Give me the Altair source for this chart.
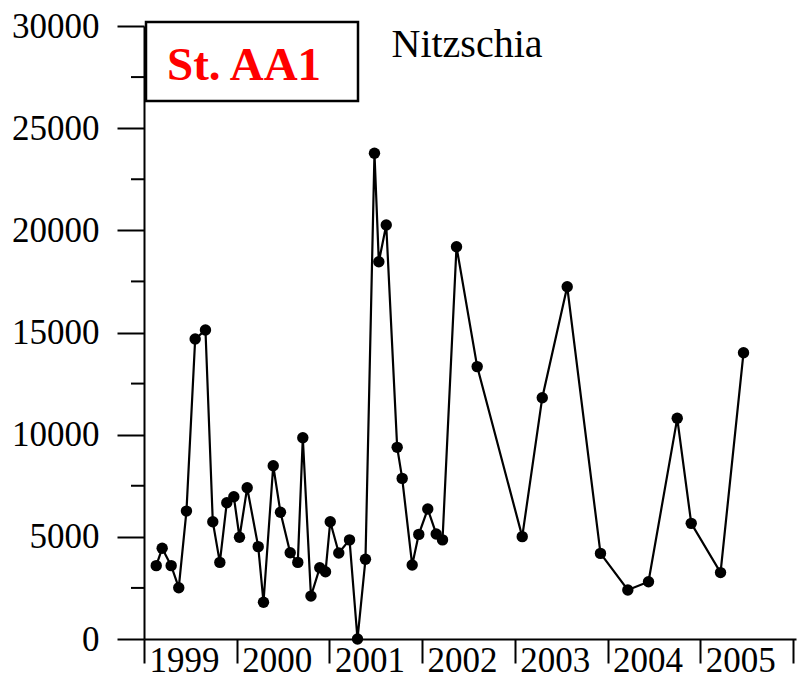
import altair as alt
import pandas as pd

# Sampling dates (decimal years) and Nitzschia abundance at station AA1
sample_time = [
    1999.132, 1999.196, 1999.293, 1999.375, 1999.458, 1999.552, 1999.663, 1999.742,
    1999.818, 1999.893, 1999.969, 2000.030, 2000.113, 2000.232, 2000.289, 2000.394,
    2000.472, 2000.577, 2000.659, 2000.713, 2000.801, 2000.896, 2000.958, 2001.009,
    2001.101, 2001.217, 2001.303, 2001.389, 2001.486, 2001.533, 2001.613, 2001.731,
    2001.785, 2001.893, 2001.964, 2002.061, 2002.152, 2002.220, 2002.371, 2002.594,
    2003.080, 2003.296, 2003.565, 2003.924, 2004.219, 2004.442, 2004.752, 2004.903,
    2005.219, 2005.467,
]
abundance = [
    3590, 4440, 3590, 2510, 6260, 14680, 15120, 5740,
    3750, 6670, 6960, 4980, 7400, 4520, 1800, 8480,
    6200, 4220, 3750, 9850, 2100, 3490, 3290, 5740,
    4210, 4850, 0, 3900, 23770, 18460, 20260, 9380,
    7860, 3620, 5120, 6360, 5140, 4850, 19200, 13330,
    5010, 11810, 17240, 4190, 2400, 2800, 10800, 5660,
    3250, 14010,
]

year_ticks = [1999, 2000, 2001, 2002, 2003, 2004, 2005, 2006]
major_y = [0, 5000, 10000, 15000, 20000, 25000, 30000]
minor_y = [2500, 7500, 12500, 17500, 22500, 27500]

station = "St. AA1"
taxon = "Nitzschia"

SERIF = "Times New Roman, Liberation Serif, serif"

df = pd.DataFrame({"t": sample_time, "n": abundance})

x_enc = alt.X(
    "t:Q",
    scale=alt.Scale(domain=[1999, 2006.033], nice=False, zero=False),
    axis=alt.Axis(
        values=year_ticks,
        format="d",
        labelExpr="datum.value < 2006 ? datum.label : ''",
        labelAlign="left",
        labelBaseline="bottom",
        labelOffset=5,
        labelPadding=15,
        tickSize=24,
        title=None,
        grid=False,
    ),
)
y_enc = alt.Y(
    "n:Q",
    scale=alt.Scale(domain=[0, 30000], nice=False),
    axis=alt.Axis(
        values=major_y,
        format="d",
        labelBaseline="middle",
        labelPadding=18,
        tickSize=27,
        title=None,
        grid=False,
    ),
)

line = alt.Chart(df).mark_line(color="black", strokeWidth=2.2).encode(x=x_enc, y=y_enc)
points = alt.Chart(df).mark_circle(color="black", size=130, opacity=1).encode(x="t:Q", y="n:Q")

# shorter intermediate ticks on the left axis
minor = alt.Chart(pd.DataFrame({"n": minor_y})).mark_rule(
    color="black", strokeWidth=2
).encode(y="n:Q", x=alt.value(-13), x2=alt.value(0))

label_df = pd.DataFrame({"station": [station], "taxon": [taxon]})
box = alt.Chart(label_df).mark_rect(
    fill="white", stroke="black", strokeWidth=2.5
).encode(x=alt.value(2), x2=alt.value(214), y=alt.value(-4), y2=alt.value(75))
station_text = alt.Chart(label_df).mark_text(
    font=SERIF, fontSize=47, fontWeight="bold", color="#ff0000",
    align="left", baseline="alphabetic",
).encode(text="station:N", x=alt.value(23), y=alt.value(54))
taxon_text = alt.Chart(label_df).mark_text(
    font=SERIF, fontSize=40, color="black", align="left", baseline="alphabetic",
).encode(text="taxon:N", x=alt.value(247.5), y=alt.value(30.7))

chart = (
    alt.layer(line, points, minor, box, station_text, taxon_text)
    .properties(
        width=652,
        height=613,
        autosize=alt.AutoSizeParams(type="none"),
        padding={"left": 144, "top": 26, "right": 1, "bottom": 40},
        background="white",
    )
    .configure_view(stroke=None)
    .configure_axis(
        domainColor="black",
        domainWidth=2,
        tickColor="black",
        tickWidth=2,
        labelColor="black",
        labelFont=SERIF,
        labelFontSize=35,
    )
)

chart.save("out.html", embed_options={"renderer": "svg", "actions": False})
